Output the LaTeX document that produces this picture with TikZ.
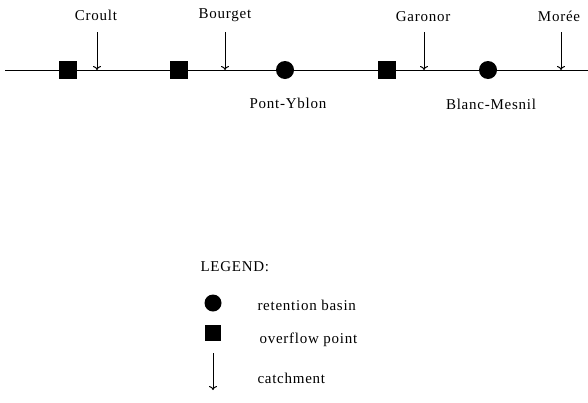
\documentclass[tikz,border=0pt]{standalone}
\usepackage{fontspec}
\setmainfont{Liberation Serif}[LetterSpace=5]
\usetikzlibrary{arrows.meta}
\begin{document}
\begin{tikzpicture}[x=1pt,y=-1pt,
  sq/.style={fill=black,minimum size=18pt,inner sep=0pt},
  dot/.style={circle,fill=black,minimum size=18pt,inner sep=0pt},
  lbl/.style={font=\fontsize{15}{17}\selectfont,inner sep=0pt},
  catch/.style={-{To[length=4pt,width=8pt]},line width=1pt},
  every path/.style={line width=1pt}]
\useasboundingbox (0,0) rectangle (588,402);
\coordinate (L) at (5,70);
\coordinate (R) at (588,70);
\draw (L) -- (R);
\node[sq] (s1) at (68,70) {};
\node[sq] (s2) at (179,70) {};
\node[dot] (c1) at (285,70) {};
\node[sq] (s3) at (387,70) {};
\node[dot] (c2) at (488,70) {};
\coordinate (a1) at (97,70);
\coordinate (a2) at (225,70);
\coordinate (a3) at (424,70);
\coordinate (a4) at (561,70);
\coordinate (t1) at (97,32);
\coordinate (t2) at (225,32);
\coordinate (t3) at (424,32);
\coordinate (t4) at (561,32);
\draw[catch] (t1) -- (a1);
\draw[catch] (t2) -- (a2);
\draw[catch] (t3) -- (a3);
\draw[catch] (t4) -- (a4);
\node[lbl] (n1) at (96,15) {Croult};
\node[lbl] (n2) at (225,15) {Bourget};
\node[lbl] (n3) at (423,17) {Garonor};
\node[lbl] (n4) at (559,16) {Morée};
\node[lbl] (n5) at (288,103) {Pont-Yblon};
\node[lbl] (n6) at (491,104) {Blanc-Mesnil};
% legend
\node[lbl,anchor=west] (lg) at (200,267) {LEGEND:};
\node[dot,minimum size=17pt] (lc) at (213,303) {};
\node[lbl,anchor=west] (lct) at (257,305) {retention basin};
\node[sq,minimum size=16pt] (ls) at (213,333) {};
\node[lbl,anchor=west] (lst) at (259,340) {overflow point};
\coordinate (lat) at (213,353);
\coordinate (lab) at (213,390);
\draw[catch] (lat) -- (lab);
\node[lbl,anchor=west] (lcat) at (257,378) {catchment};
\end{tikzpicture}
\end{document}
